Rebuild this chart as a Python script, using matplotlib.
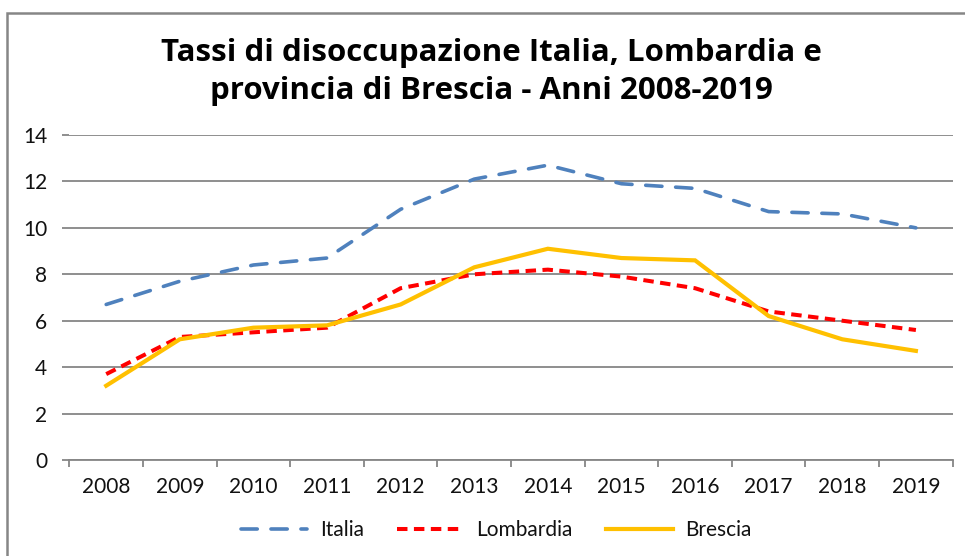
import matplotlib
matplotlib.use("Agg")
import matplotlib.pyplot as plt
from matplotlib.patches import Rectangle
import numpy as np

years = ["2008", "2009", "2010", "2011", "2012", "2013", "2014", "2015", "2016", "2017", "2018", "2019"]
italia = [6.7, 7.7, 8.4, 8.7, 10.8, 12.1, 12.7, 11.9, 11.7, 10.7, 10.6, 10.0]
lombardia = [3.7, 5.3, 5.5, 5.7, 7.4, 8.0, 8.2, 7.9, 7.4, 6.4, 6.0, 5.6]
brescia = [3.2, 5.2, 5.7, 5.8, 6.7, 8.3, 9.1, 8.7, 8.6, 6.2, 5.2, 4.7]
yticks = [0, 2, 4, 6, 8, 10, 12, 14]
title = "Tassi di disoccupazione Italia, Lombardia e\nprovincia di Brescia - Anni 2008-2019"

W, H = 965, 556
fig = plt.figure(figsize=(W / 100, H / 100), dpi=100)
plt.rcParams['font.family'] = ['Lato', 'DejaVu Sans']

# outer frame (chart area border, extends beyond image at right/bottom)
fig.patches.append(Rectangle((7 / W, -0.1), 1.2, (H - 13) / H + 0.1, transform=fig.transFigure,
                             fill=False, edgecolor='#868686', linewidth=1.8, zorder=0))

left, right = 69.4 / W, 952.7 / W
bottom, top = (H - 460) / H, (H - 135) / H
ax = fig.add_axes([left, bottom, right - left, top - bottom])

x = np.arange(len(years))
grid_c = '#868686'

ax.plot(x, italia, color='#4F81BD', lw=2.6, linestyle=(0, (4.5, 3.8)),
        dash_capstyle='round', solid_capstyle='round', label='Italia', zorder=3)
ax.plot(x, lombardia, color='#FF0000', lw=2.9, linestyle=(0, (2.6, 1.6)),
        dash_capstyle='butt', label='Lombardia', zorder=4)
ax.plot(x, brescia, color='#FFC000', lw=3.0, solid_joinstyle='miter',
        label='Brescia', zorder=5)

ax.set_xlim(-0.5, len(years) - 0.5)
ax.set_ylim(0, 14)
ax.set_yticks(yticks)
ax.set_yticklabels([str(v) for v in yticks])
ax.set_xticks(x)
ax.set_xticklabels(years)
ax.set_xticks(np.arange(-0.5, len(years)), minor=True)

for s in ['top', 'right', 'left']:
    ax.spines[s].set_visible(False)
ax.spines['bottom'].set_color(grid_c)
ax.spines['bottom'].set_linewidth(1.3)

ax.yaxis.grid(True, color=grid_c, linewidth=1.3)
ax.set_axisbelow(True)

ax.tick_params(axis='y', length=5, width=1.3, color=grid_c, pad=11, labelsize=15, labelcolor='#111111')
ax.tick_params(axis='x', which='major', length=0, pad=12, labelsize=15, labelcolor='#111111')
ax.tick_params(axis='x', which='minor', length=5, width=1.3, color=grid_c)

fig.text(491 / W, 1 - 72 / H, title, ha='center', va='center', fontsize=22.5,
         fontweight='bold', family=['Open Sans', 'DejaVu Sans'], linespacing=1.36, color='#000000')

leg = fig.legend(loc='center', bbox_to_anchor=(496 / W, 1 - 530 / H), ncol=3, frameon=False,
                 fontsize=15, handlelength=3.2, handletextpad=0.6, columnspacing=1.6)
for t in leg.get_texts():
    t.set_color('#111111')

fig.savefig('out.png', dpi=100)
